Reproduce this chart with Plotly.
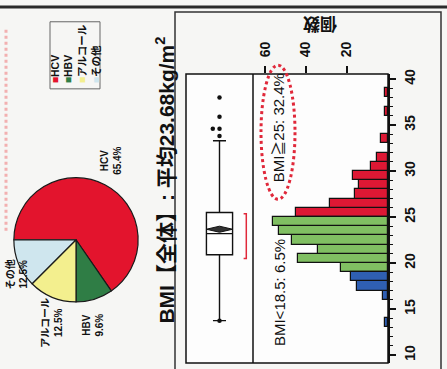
import plotly.graph_objects as go

W, H = 447, 369
def px(x): return x / W
def py(y): return 1 - y / H

# ---------------- data ----------------
pie_labels = ["HCV", "HBV", "アルコール", "その他"]
pie_values = [65.4, 9.6, 12.5, 12.5]
pie_colors = ["#e3142d", "#2f7d45", "#f3ef8e", "#cfe6ee"]

bin_left = [13, 16, 17, 18, 19, 20, 21, 22, 23, 24, 25, 26, 27, 28, 29, 30, 31, 33, 36, 38]
bin_count = [1, 2, 15, 18, 23, 44, 34, 47, 53, 56, 45, 28, 16, 14, 17, 8, 5, 3, 1, 1]

box_q1, box_median, box_q3 = 20.9, 23.2, 25.5
box_low, box_high = 13.75, 33.3
bmi_mean, mean_ci = 23.68, 0.33
outliers = [38.0, 35.9, 34.6, 34.6, 33.8, 13.75]
outlier_jitter = [0.0, 0.0, -0.1, 0.0, 0.0, 0.0]
short_half = [20.5, 25.35]

bmi_ticks = [10, 15, 20, 25, 30, 35, 40]
count_ticks = [20, 40, 60]

RED, GREEN, BLUE = "#dd1834", "#80bf62", "#2f5fb3"

fig = go.Figure()

# ---------------- pie ----------------
fig.add_trace(go.Pie(
    labels=pie_labels, values=pie_values, sort=False, direction="clockwise",
    rotation=270, textinfo="none", hoverinfo="label+percent",
    marker=dict(colors=pie_colors, line=dict(color="#1a1a1a", width=1.2)),
    domain=dict(x=[px(13), px(139)], y=[py(301), py(175)]),
    showlegend=False))

# ---------------- histogram (horizontal bars) ----------------
groups = [("red", RED, lambda b: b >= 25), ("green", GREEN, lambda b: 19 <= b < 25),
          ("blue", BLUE, lambda b: b < 19)]
for name, col, cond in groups:
    ys = [b + 0.5 for b in bin_left if cond(b)]
    xs = [c for b, c in zip(bin_left, bin_count) if cond(b)]
    fig.add_trace(go.Bar(x=xs, y=ys, orientation="h", width=1.0, base=0,
                         marker=dict(color=col, line=dict(color="#111", width=1.2)),
                         xaxis="x", yaxis="y", showlegend=False, name=name))

# ---------------- box plot ----------------
fig.add_trace(go.Box(x=[0.5], q1=[box_q1], median=[box_median], q3=[box_q3],
                     lowerfence=[box_low], upperfence=[box_high], width=0.39,
                     fillcolor="white", line=dict(color="#111", width=1.4),
                     boxpoints=False, xaxis="x2", yaxis="y", showlegend=False))
# mean diamond
hw = 0.39 / 2
fig.add_trace(go.Scatter(
    x=[0.5 - hw, 0.5, 0.5 + hw, 0.5, 0.5 - hw],
    y=[bmi_mean, bmi_mean + mean_ci, bmi_mean, bmi_mean - mean_ci, bmi_mean],
    fill="toself", fillcolor="#333", mode="lines", line=dict(color="#111", width=1),
    xaxis="x2", yaxis="y", showlegend=False))
# outliers
fig.add_trace(go.Scatter(x=[0.5 + j for j in outlier_jitter], y=outliers, mode="markers",
                         marker=dict(color="#111", size=4.5), xaxis="x2", yaxis="y",
                         showlegend=False))
# shortest half bracket
fig.add_trace(go.Scatter(x=[0.86, 0.9, 0.9, 0.86],
                         y=[short_half[1], short_half[1], short_half[0], short_half[0]],
                         mode="lines", line=dict(color="#e0283a", width=1.5),
                         xaxis="x2", yaxis="y", showlegend=False))

# ---------------- axes ----------------
zero_px, k = 387.5, 2.04
TICKFONT = dict(family="Liberation Sans", size=14, color="#111", weight="bold")
fig.update_layout(
    width=W, height=H, margin=dict(l=0, r=0, t=0, b=0),
    paper_bgcolor="#f6f6f4", plot_bgcolor="#fdfdfd",
    bargap=0,
    xaxis=dict(domain=[px(253), px(388)], range=[(zero_px - 253) / k, (zero_px - 388) / k],
               side="top", anchor="y", tickvals=count_ticks, ticks="outside", ticklen=7,
               tickwidth=1.5, tickcolor="#111", tickangle=-90, showgrid=False,
               zeroline=False, showline=False, tickfont=TICKFONT, ticklabelstandoff=6),
    xaxis2=dict(domain=[px(186), px(253)], range=[0, 1], anchor="y", visible=False),
    yaxis=dict(domain=[py(363), py(70)], range=[25 - (363 - 215) / 9.33, 25 + (215 - 70) / 9.33],
               side="right", anchor="x", tickvals=bmi_ticks, ticks="outside", ticklen=6,
               tickwidth=1.5, tickcolor="#111", tickangle=-90, showgrid=False,
               zeroline=False, showline=True, linecolor="#111", linewidth=1.5,
               minor=dict(dtick=1, ticks="outside", ticklen=3, tickcolor="#111", tickwidth=1.2),
               tickfont=TICKFONT, ticklabelstandoff=2),
)

# ---------------- shapes ----------------
def line(x0, y0, x1, y1, color="#222", width=1.5, dash="solid"):
    return dict(type="line", xref="paper", yref="paper", x0=px(x0), y0=py(y0),
                x1=px(x1), y1=py(y1), line=dict(color=color, width=width, dash=dash))

def rect(x0, y0, x1, y1, color="#222", width=1.5):
    return dict(type="rect", xref="paper", yref="paper", x0=px(x0), y0=py(y0),
                x1=px(x1), y1=py(y1), line=dict(color=color, width=width))

shapes = [
    line(0, 2, W, 2, color="#2a2a2a", width=3),
    rect(175, 7, 441, 375, color="#333", width=1.5),
    rect(186, 70, 388, 363, color="#111", width=1.5),
    line(253, 70, 253, 363, color="#111", width=1.5),
    rect(50, 17, 100, 85, color="#666", width=1),
    dict(type="circle", xref="paper", yref="paper", x0=px(261), y0=py(197),
         x1=px(295), y1=py(61), line=dict(color="#e0283a", width=3, dash="dot")),
    line(6, 25, 6, 230, color="#f2b0b0", width=3, dash="dot"),
]
fig.update_layout(shapes=shapes)

# ---------------- annotations ----------------
FONT = "Liberation Sans, Noto Sans CJK JP"
def ann(text, x, y, size, angle=-90, bold=True, color="#111", align="center"):
    return dict(text=text, x=px(x), y=py(y), xref="paper", yref="paper",
                xanchor="center", yanchor="middle", showarrow=False, textangle=angle,
                align=align,
                font=dict(family=FONT, size=size, color=color,
                          weight="bold" if bold else "normal"))

sq = lambda c: f"<span style='color:{c}'>■</span>"
legend_text = "<br>".join(sq(c) + l for c, l in zip(pie_colors, pie_labels))

annotations = [
    ann(f"{pie_labels[0]}<br>{pie_values[0]}%", 111, 158, 10),
    ann(f"{pie_labels[1]}<br>{pie_values[1]}%", 93, 325, 10),
    ann(f"{pie_labels[2]}<br>{pie_values[2]}%", 52, 322, 10),
    ann(f"{pie_labels[3]}<br>{pie_values[3]}%", 16, 273, 10),
    ann(legend_text, 75, 50, 10.5, align="left"),
    ann(f"BMI【全体】: 平均{bmi_mean}kg/m<sup>2</sup>", 165, 178, 21),
    ann("個数", 320, 18, 17, angle=180),
    ann("BMI≧25: 32.4%", 278, 125, 15, bold=False),
    ann("BMI&lt;18.5: 6.5%", 279, 292, 15, bold=False),
]
fig.update_layout(annotations=annotations)

fig.write_html("out.html")
